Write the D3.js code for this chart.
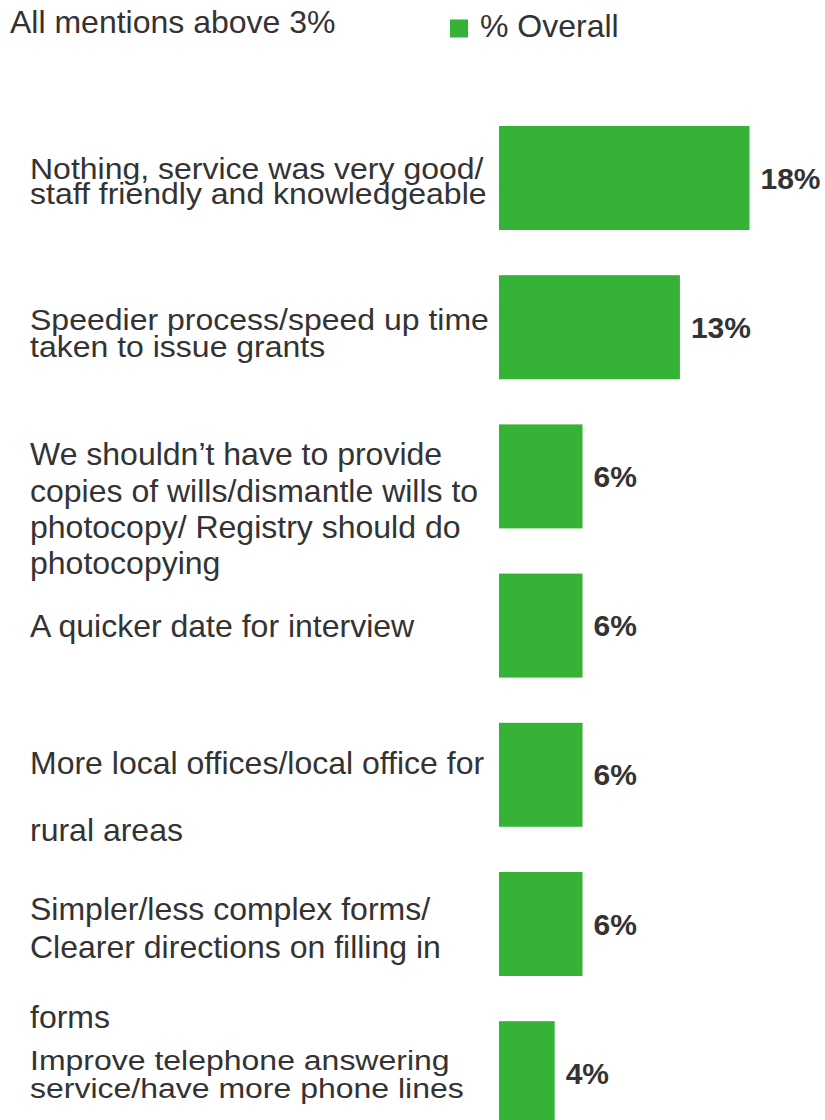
<!DOCTYPE html>
<html>
<head>
<meta charset="utf-8">
<script src="https://cdn.jsdelivr.net/npm/d3@7/dist/d3.min.js"></script>
<style>
  html, body { margin: 0; padding: 0; background: #ffffff; }
  svg { display: block; font-family: "Liberation Sans", Arial, sans-serif; }
</style>
</head>
<body>
<svg id="chart" width="825" height="1120"></svg>
<script>
// Suggested improvements, share of all respondents (%)
const categories = [
  "Nothing, service was very good/ staff friendly and knowledgeable",
  "Speedier process/speed up time taken to issue grants",
  "We shouldn’t have to provide copies of wills/dismantle wills to photocopy/ Registry should do photocopying",
  "A quicker date for interview",
  "More local offices/local office for rural areas",
  "Simpler/less complex forms/ Clearer directions on filling in forms",
  "Improve telephone answering service/have more phone lines"
];
const overall = [18, 13, 6, 6, 6, 6, 4];
const seriesName = "% Overall";
const subtitle = "All mentions above 3%";

// Wrapped lines of each category label
const labelLines = [
  ["Nothing, service was very good/", "staff friendly and knowledgeable"],
  ["Speedier process/speed up time", "taken to issue grants"],
  ["We shouldn’t have to provide", "copies of wills/dismantle wills to", "photocopy/ Registry should do", "photocopying"],
  ["A quicker date for interview"],
  ["More local offices/local office for", "rural areas"],
  ["Simpler/less complex forms/", "Clearer directions on filling in", "forms"],
  ["Improve telephone answering", "service/have more phone lines"]
];

// Baseline of each label line, measured from the centre of its bar
const lineOffsets = [
  [1, 25.5],
  [2.5, 30],
  [-11, 26, 62, 98],
  [11],
  [-1, 66],
  [-4.5, 33.5, 103.5],
  [-3, 25]
];
// Vertical squeeze of the tightly set labels
const labelSqueeze = [0.9, 0.9, 1, 1, 1, 1, 0.88];

const svg = d3.select("#chart");
const textColor = "#333333";
const barColor = "#36b236";

const barLeft = 499;
const x = d3.scaleLinear().domain([0, 18]).range([0, 250.5]);

const step = 149.2;
const bandH = 104;
const padInner = 1 - bandH / step;
const padOuter = padInner / 2;
const yStart = 126 - padOuter * step;
const y = d3.scaleBand()
  .domain(categories)
  .range([yStart, yStart + step * (categories.length - padInner + 2 * padOuter)])
  .paddingInner(padInner)
  .paddingOuter(padOuter);

// Subtitle
svg.append("text")
  .attr("x", 10).attr("y", 33)
  .attr("font-size", 32)
  .attr("fill", textColor)
  .text(subtitle);

// Legend
const legend = svg.append("g");
legend.append("rect")
  .attr("x", 450).attr("y", 19.5)
  .attr("width", 18).attr("height", 18)
  .attr("fill", barColor);
legend.append("text")
  .attr("x", 480).attr("y", 37)
  .attr("font-size", 32)
  .attr("fill", textColor)
  .text(seriesName);

const rows = svg.append("g")
  .selectAll("g")
  .data(categories.map((c, i) => ({
    cat: c, value: overall[i], lines: labelLines[i], offs: lineOffsets[i], sq: labelSqueeze[i]
  })))
  .join("g");

// Bars
rows.append("rect")
  .attr("x", barLeft)
  .attr("y", d => y(d.cat))
  .attr("width", d => x(d.value))
  .attr("height", y.bandwidth())
  .attr("fill", barColor);

// Value labels
rows.append("text")
  .attr("x", d => barLeft + x(d.value) + 11)
  .attr("y", d => y(d.cat) + y.bandwidth() / 2 + 10.5)
  .attr("font-size", 30)
  .attr("font-weight", "bold")
  .attr("fill", textColor)
  .text(d => d.value + "%");

// Category labels, one text per line
rows.each(function (d) {
  const cy = y(d.cat) + y.bandwidth() / 2;
  d3.select(this).selectAll("text.cat")
    .data(d.lines)
    .join("text")
    .attr("class", "cat")
    .attr("transform", (line, j) => `translate(30,${cy + d.offs[j]}) scale(1,${d.sq})`)
    .attr("font-size", 32)
    .attr("fill", textColor)
    .text(line => line);
});
</script>
</body>
</html>
